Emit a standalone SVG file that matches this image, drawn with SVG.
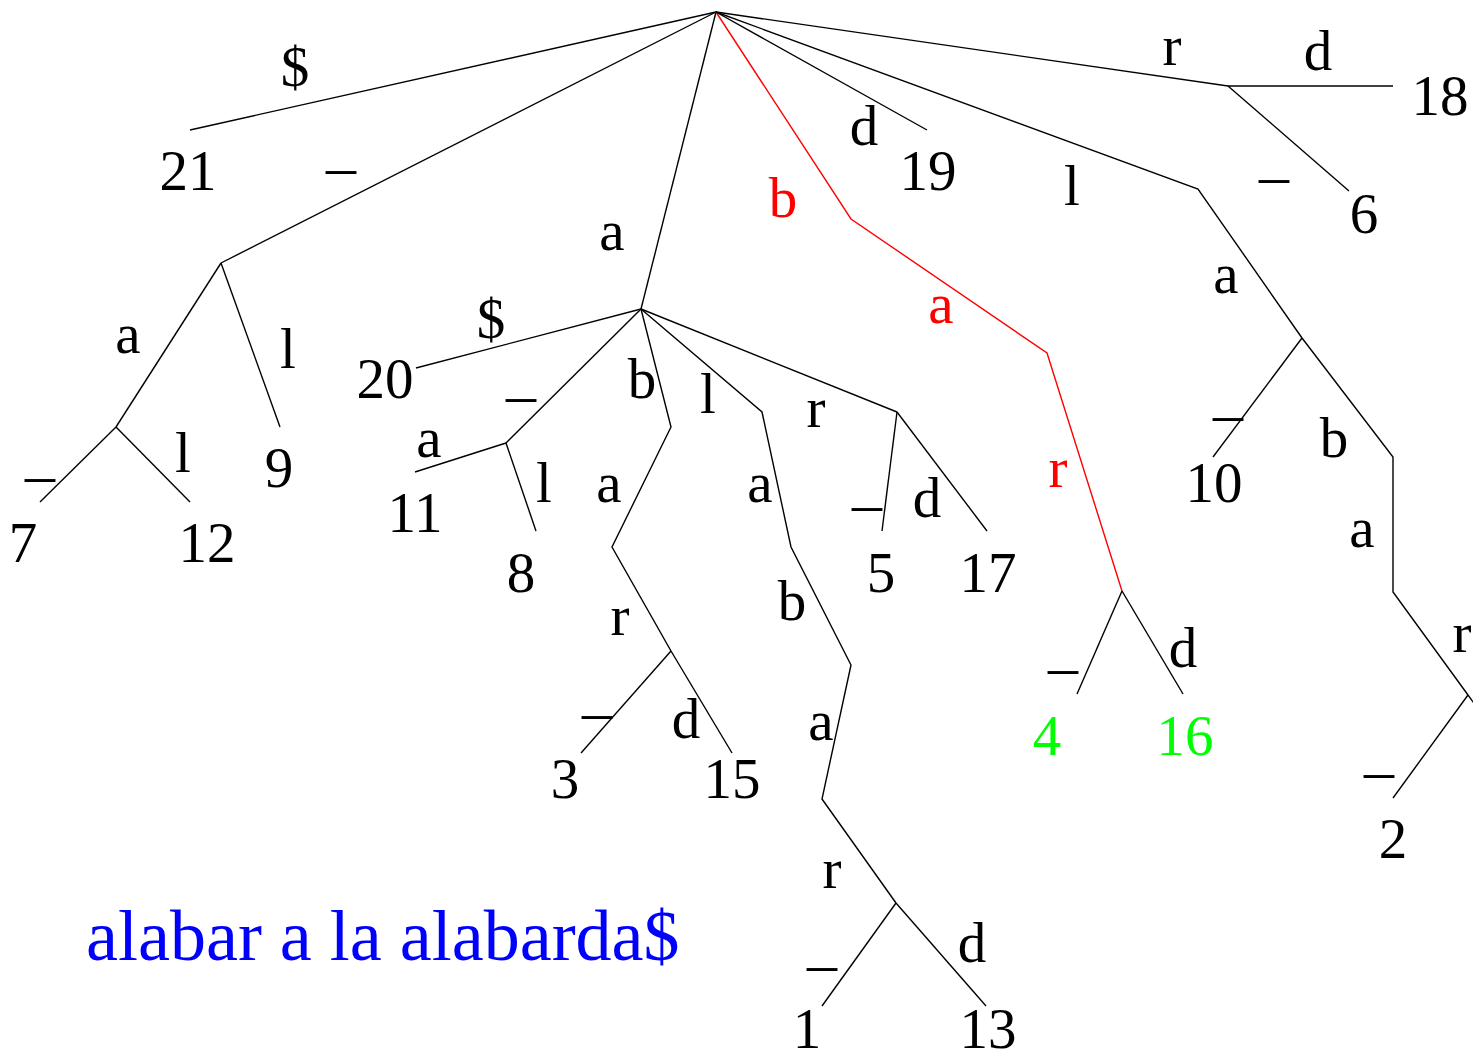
<svg xmlns="http://www.w3.org/2000/svg" width="1473" height="1057" viewBox="0 0 1473 1057">
<style>
text{font-family:"Liberation Serif","Times New Roman",serif;font-size:57px;text-anchor:middle;fill:#000}
.u{font-size:60px}
.red{fill:#ff0000}
.grn{fill:#00ff00}
.blue{fill:#0000ff;font-size:72px;text-anchor:start}
.e{fill:none;stroke:#000;stroke-width:1.4}
.er{fill:none;stroke:#ff0000;stroke-width:1.4}
</style>
<rect width="1473" height="1057" fill="#fff"/>
<g id="connectors">
<path class="e" d="M716,12 L190,130"/>
<path class="e" d="M716,12 L221,263"/>
<path class="e" d="M716,12 L641,309"/>
<path class="er" d="M716,12 L851,219 L1047,353 L1122,591"/>
<path class="e" d="M716,12 L927,130"/>
<path class="e" d="M716,12 L1198,189 L1302,338"/>
<path class="e" d="M716,12 L1228,86"/>
<path class="e" d="M1228,86 L1393,86"/>
<path class="e" d="M1228,86 L1349,191"/>
<path class="e" d="M1302,338 L1213,457"/>
<path class="e" d="M1302,338 L1393,457 L1393,592 L1468,695"/>
<path class="e" d="M1468,695 L1393,798"/>
<path class="e" d="M1468,695 L1476,706"/>
<path class="e" d="M221,263 L116,427"/>
<path class="e" d="M221,263 L280,427"/>
<path class="e" d="M116,427 L40,502"/>
<path class="e" d="M116,427 L190,502"/>
<path class="e" d="M641,309 L416,368"/>
<path class="e" d="M641,309 L506,443"/>
<path class="e" d="M641,309 L671,427 L612,547 L671,651"/>
<path class="e" d="M641,309 L762,412 L791,547 L851,665 L822,799 L896,903"/>
<path class="e" d="M641,309 L897,412"/>
<path class="e" d="M506,443 L415,472"/>
<path class="e" d="M506,443 L536,531"/>
<path class="e" d="M671,651 L581,753"/>
<path class="e" d="M671,651 L732,753"/>
<path class="e" d="M896,903 L822,1006"/>
<path class="e" d="M896,903 L986,1006"/>
<path class="e" d="M897,412 L882,531"/>
<path class="e" d="M897,412 L987,531"/>
<path class="e" d="M1122,591 L1077,694"/>
<path class="e" d="M1122,591 L1183,694"/>
</g>
<g id="edge-labels">
<text x="295" y="86">$</text>
<text class="u" x="341" y="166">_</text>
<text x="612" y="250">a</text>
<text class="red" x="783" y="217">b</text>
<text class="red" x="941" y="323">a</text>
<text class="red" x="1058" y="487">r</text>
<text x="864" y="145">d</text>
<text x="1072" y="205">l</text>
<text x="1226" y="293">a</text>
<text x="1172" y="65">r</text>
<text x="1318" y="70">d</text>
<text class="u" x="1274" y="175">_</text>
<text class="u" x="1228" y="413">_</text>
<text x="1334" y="457">b</text>
<text x="1362" y="547">a</text>
<text x="1462" y="652">r</text>
<text class="u" x="1379" y="770">_</text>
<text x="128" y="353">a</text>
<text x="288" y="368">l</text>
<text class="u" x="40" y="474">_</text>
<text x="183" y="472">l</text>
<text x="491" y="338">$</text>
<text class="u" x="521" y="394">_</text>
<text x="429" y="457">a</text>
<text x="544" y="502">l</text>
<text x="642" y="398">b</text>
<text x="609" y="502">a</text>
<text x="620" y="635">r</text>
<text class="u" x="597" y="711">_</text>
<text x="686" y="738">d</text>
<text x="708" y="413">l</text>
<text x="760" y="502">a</text>
<text x="792" y="620">b</text>
<text x="821" y="740">a</text>
<text x="832" y="888">r</text>
<text class="u" x="822" y="963">_</text>
<text x="972" y="962">d</text>
<text x="816" y="427">r</text>
<text class="u" x="867" y="503">_</text>
<text x="927" y="517">d</text>
<text class="u" x="1063" y="666">_</text>
<text x="1183" y="667">d</text>
</g>
<g id="n21"><text x="188" y="190">21</text></g>
<g id="n19"><text x="928" y="190">19</text></g>
<g id="n18"><text x="1440" y="115">18</text></g>
<g id="n6"><text x="1364" y="233">6</text></g>
<g id="n10"><text x="1214" y="502">10</text></g>
<g id="n2"><text x="1393" y="858">2</text></g>
<g id="n9"><text x="279" y="487">9</text></g>
<g id="n7"><text x="23" y="562">7</text></g>
<g id="n12"><text x="207" y="562">12</text></g>
<g id="n20"><text x="385" y="398">20</text></g>
<g id="n11"><text x="415" y="532">11</text></g>
<g id="n8"><text x="521" y="592">8</text></g>
<g id="n3"><text x="565" y="798">3</text></g>
<g id="n15"><text x="732" y="798">15</text></g>
<g id="n1"><text x="807" y="1048">1</text></g>
<g id="n13"><text x="988" y="1048">13</text></g>
<g id="n5"><text x="881" y="592">5</text></g>
<g id="n17"><text x="988" y="592">17</text></g>
<g id="n4"><text class="grn" x="1047" y="755">4</text></g>
<g id="n16"><text class="grn" x="1185" y="755">16</text></g>
<g id="string"><text class="blue" x="86" y="960">alabar a la alabarda$</text></g>
</svg>
